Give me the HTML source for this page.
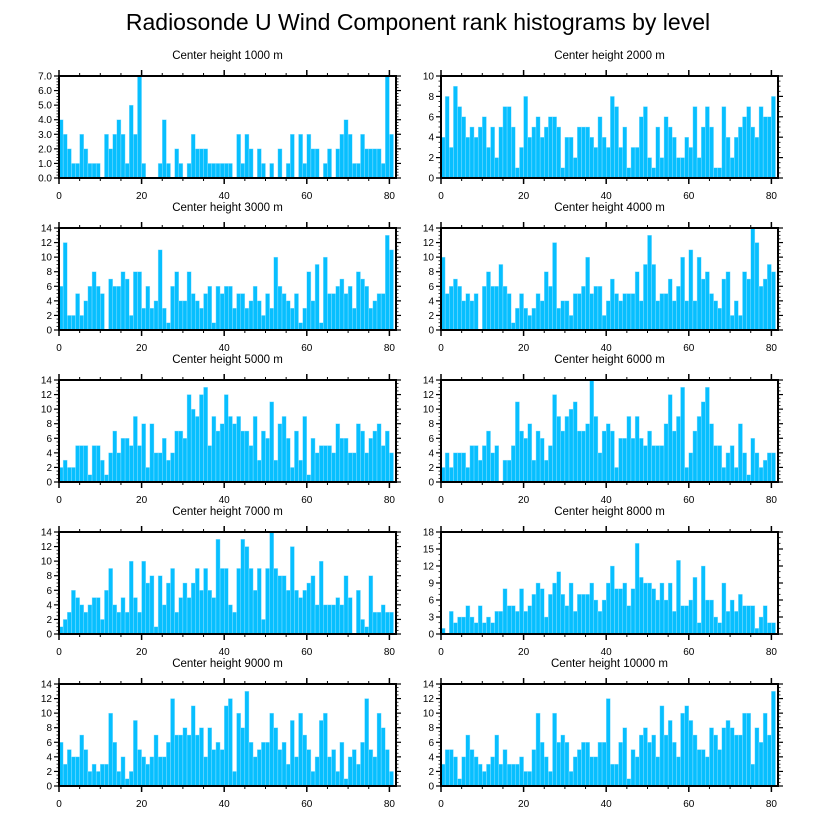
<!DOCTYPE html>
<html><head><meta charset="utf-8">
<style>
html,body{margin:0;padding:0;background:#fff;}
svg{display:block;font-family:"Liberation Sans",Arial,sans-serif;}
</style></head>
<body>
<svg id="chart" width="818" height="824" viewBox="0 0 818 824">
<text x="418" y="30" text-anchor="middle" font-size="23" fill="#000">Radiosonde U Wind Component rank histograms by level</text>
</svg>
<script>
const levels = ["1000","2000","3000","4000","5000","6000","7000","8000","9000","10000"];
const yMaxes = [7,10,14,14,14,14,14,18,14,14];
const yStepsArr = [1,2,2,2,2,2,2,3,2,2];
const xTickLabels = [0,20,40,60,80];
const h1000 = [4,3,2,1,1,3,2,1,1,1,0,3,2,3,4,3,1,5,3,7,1,0,0,0,1,4,1,0,2,1,0,1,3,2,2,2,1,1,1,1,1,1,0,3,1,3,2,0,2,1,0,1,0,2,0,1,3,0,3,1,3,2,2,0,1,2,0,2,3,4,3,1,1,3,2,2,2,2,1,7,3];
const h2000 = [4,8,3,9,7,6,4,5,4,5,6,3,5,2,5,7,7,5,1,3,8,4,5,6,4,5,6,6,5,1,4,4,2,5,5,5,4,3,6,4,3,8,7,3,5,1,3,3,6,7,2,1,5,2,6,5,4,2,2,4,3,7,2,5,7,5,1,1,7,4,2,4,5,6,7,5,4,7,6,6,8];
const h3000 = [6,12,2,2,5,2,4,6,8,6,5,0,7,6,6,8,7,2,8,8,3,6,3,4,11,3,1,6,8,4,4,8,5,4,3,5,6,1,6,5,6,6,3,5,5,3,4,6,4,2,5,3,10,6,5,4,3,5,1,3,8,4,9,1,10,5,5,6,7,5,6,3,8,7,6,3,4,5,5,13,11];
const h4000 = [10,5,6,7,6,4,5,4,5,0,6,8,6,6,9,6,5,1,3,5,3,2,3,5,4,8,6,12,3,4,4,2,5,5,6,10,5,6,6,2,4,7,5,4,5,5,5,8,4,9,13,9,4,5,5,7,4,6,10,4,11,4,10,7,8,5,4,3,7,8,2,4,2,8,7,14,12,6,7,9,8];
const h5000 = [2,3,2,2,5,5,5,1,5,5,3,1,4,7,4,6,6,5,9,5,8,2,8,4,4,6,3,4,7,7,6,12,10,9,12,13,5,9,7,8,12,9,8,9,7,7,5,9,3,7,6,11,3,8,9,6,2,7,3,9,1,6,4,5,5,5,4,8,6,6,4,4,8,7,4,6,7,8,5,7,4];
const h6000 = [2,4,2,4,4,4,2,5,5,3,5,7,4,5,0,3,3,5,11,7,6,8,3,7,6,3,5,12,9,7,9,10,11,7,7,8,14,9,4,7,8,7,2,6,6,9,6,9,6,5,7,5,5,5,8,12,7,9,13,2,4,7,9,11,13,8,5,5,2,4,5,2,8,4,1,6,4,2,3,4,4];
const h7000 = [1,2,3,6,5,4,3,4,5,5,2,6,9,4,3,5,3,10,5,3,10,7,8,1,8,4,7,9,3,5,7,5,7,9,6,9,6,5,13,9,9,4,3,9,13,12,9,6,9,2,9,14,9,8,8,6,12,6,5,6,7,8,4,10,4,4,4,5,4,8,5,0,6,2,1,8,3,3,4,3,3];
const h8000 = [1,0,4,2,3,3,5,3,2,5,2,3,2,4,4,8,5,5,4,8,4,5,7,9,8,3,7,9,11,7,5,9,4,7,7,7,9,6,4,6,9,12,8,8,9,5,8,16,10,9,9,8,6,9,6,9,4,13,5,5,6,10,2,12,6,6,3,2,9,4,6,4,7,5,5,5,1,3,5,2,2];
const h9000 = [6,3,5,4,4,7,5,2,3,2,3,3,10,6,2,4,1,2,9,5,4,3,4,7,4,4,6,12,7,7,8,7,11,7,8,4,8,5,6,5,11,12,2,10,8,13,6,4,5,6,6,10,8,5,6,3,9,4,10,7,5,2,4,9,10,4,5,2,6,1,4,5,3,6,12,5,4,10,8,5,2];
const h10000 = [3,5,5,4,1,4,7,5,4,3,2,3,4,7,3,5,3,3,3,4,2,2,5,10,6,4,2,10,6,7,6,2,4,5,6,6,4,4,6,6,12,3,3,6,8,1,5,4,7,8,6,7,4,11,7,9,6,4,10,11,9,7,5,5,4,8,7,5,8,9,8,7,7,10,10,3,8,6,10,7,13];
const seriesList = [h1000,h2000,h3000,h4000,h5000,h6000,h7000,h8000,h9000,h10000];

const NS = "http://www.w3.org/2000/svg";
const svg = document.getElementById('chart');
function mk(tag, attrs, parent){ const e=document.createElementNS(NS,tag); for(const k in attrs) e.setAttribute(k,attrs[k]); parent.appendChild(e); return e; }

const PW = 337, PH = 102, XMAX = 81.6;
const lefts = [59, 441];
const tops = [76, 228, 380, 532, 684];

for (let p = 0; p < seriesList.length; p++) {
  const col = p % 2, row = Math.floor(p / 2);
  const L = lefts[col], T = tops[row], B = T + PH, R = L + PW;
  const ymax = yMaxes[p], ystep = yStepsArr[p];
  const xS = v => L + v / XMAX * PW;
  const yS = v => B - v / ymax * PH;
  const g = mk('g', {}, svg);
  
  
  const t = mk('text', {x: L + PW/2, y: T - 17, 'text-anchor':'middle', 'font-size':'11.5', fill:'#000'}, g);
  t.textContent = 'Center height ' + levels[p] + ' m';
  
  
  const data = seriesList[p];
  for (let i = 0; i < data.length; i++) {
    if (data[i] <= 0) continue;
    const r = mk('rect', {x: xS(i), y: yS(data[i]), width: xS(i+1) - xS(i), height: B - yS(data[i]), fill:'#07bfff', stroke:'#9fe3ff', 'stroke-width':'0.4'}, g);
    
    
  }
  const f = mk('rect', {x:L, y:T, width:PW, height:PH, fill:'none', stroke:'#000', 'stroke-width':'2'}, g);
  
  
  for (let v = 0; v <= 80; v += 5) {
    const major = v % 20 === 0;
    const len = major ? 6 : 3;
    const x = xS(v);
    mk('line', {x1:x, x2:x, y1:B, y2:B+len, stroke:'#000', 'stroke-width': major?1.5:1}, g);
    mk('line', {x1:x, x2:x, y1:T, y2:T-len, stroke:'#000', 'stroke-width': major?1.5:1}, g);
  }
  for (const v of xTickLabels) {
    const tl = mk('text', {x: xS(v), y: B + 21, 'text-anchor':'middle', 'font-size':'10', fill:'#000'}, g);
    tl.textContent = v;
    
    
  }
  const minorStep = ystep / (ystep === 3 ? 3 : (ystep === 1 ? 5 : 4));
  for (let v = 0; v <= ymax + 1e-9; v += minorStep) {
    const major = Math.abs(v / ystep - Math.round(v / ystep)) < 1e-6;
    const len = major ? 5 : 2.5;
    const y = yS(v);
    mk('line', {x1:L, x2:L-len, y1:y, y2:y, stroke:'#000', 'stroke-width': major?1.2:0.8}, g);
    mk('line', {x1:R, x2:R+len, y1:y, y2:y, stroke:'#000', 'stroke-width': major?1.2:0.8}, g);
  }
  for (let v = 0; v <= ymax + 1e-9; v += ystep) {
    const yl = mk('text', {x: L - 7, y: yS(v) + 3.5, 'text-anchor':'end', 'font-size':'10', fill:'#000'}, g);
    yl.textContent = ymax === 7 ? v.toFixed(1) : v;
    
    
  }
}
</script>
</body></html>
